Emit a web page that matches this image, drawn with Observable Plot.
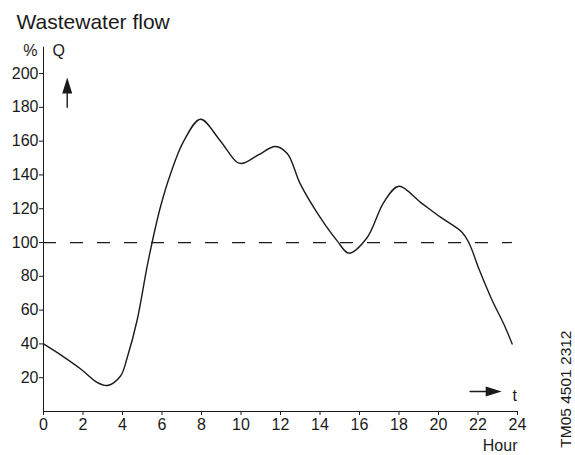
<!DOCTYPE html>
<html>
<head>
<meta charset="utf-8">
<script src="https://cdn.jsdelivr.net/npm/d3@7"></script>
<script src="https://cdn.jsdelivr.net/npm/@observablehq/plot@0.6"></script>
<style>
  html, body { margin: 0; padding: 0; background: #fff; }
</style>
</head>
<body>
<div id="chart"></div>
<script>
// ---- data ----
const hours = [0, 1.0, 1.9, 2.7, 3.24, 3.9, 4.24, 4.74, 5.3, 5.92, 6.43, 7.1, 7.95, 8.9, 9.8, 10.1, 10.9, 11.75, 12.35, 13.0, 14.0, 14.87, 15.46, 16.39, 17.23, 17.99, 19.09, 20.1, 21.2, 21.55, 22.08, 22.72, 23.3, 23.73];
const flow  = [40, 32.5, 25, 17.3, 15.4, 21, 32, 54, 89, 121, 140.6, 160, 173, 161, 147.5, 146.9, 152, 156.8, 152.5, 134.7, 115, 101, 93.7, 103, 123.8, 133.3, 123.8, 115, 106, 99.6, 83.4, 65.7, 51.9, 40];
const reference = [{y: 100, x1: 0, x2: 23.75}];
const xTicks = [0, 2, 4, 6, 8, 10, 12, 14, 16, 18, 20, 22, 24];
const yTicks = [20, 40, 60, 80, 100, 120, 140, 160, 180, 200];
const titleText = "Wastewater flow";
const yUnit = "%";
const yName = "Q";
const xName = "t";
const xUnit = "Hour";
const codeText = "TM05 4501 2312";
// direction arrows (annotation, in data units)
const upArrow = [{x: 1.2, y: 180}, {x: 1.2, y: 190}];
const upTip = [{x: 1.2, y: 197.6}];
const rightArrow = [{x: 21.6, y: 11.8}, {x: 22.6, y: 11.8}];
const rightTip = [{x: 23.2, y: 11.8}];

const data = hours.map((h, i) => ({hour: h, flow: flow[i]}));

const ink = "#1a1a1a";
const headUp = {draw(ctx, size) { const k = Math.sqrt(size / Math.PI) / 8; ctx.moveTo(0, 0); ctx.lineTo(-5 * k, 16 * k); ctx.lineTo(5 * k, 16 * k); ctx.closePath(); }};
const headRight = {draw(ctx, size) { const k = Math.sqrt(size / Math.PI) / 8; ctx.moveTo(0, 0); ctx.lineTo(-16 * k, -5 * k); ctx.lineTo(-16 * k, 5 * k); ctx.closePath(); }};

const chart = Plot.plot({
  width: 575,
  height: 455,
  marginLeft: 43,
  marginRight: 58,
  marginTop: 46.7,
  marginBottom: 44,
  style: {fontFamily: "'Liberation Sans', Arial, sans-serif", fontSize: "16px", color: ink, background: "#fff"},
  x: {domain: [0, 24], ticks: xTicks, tickFormat: d => String(d), tickSize: 4, tickPadding: 3, line: true, label: null},
  y: {domain: [0, 215.6], ticks: yTicks, tickFormat: d => String(d), tickSize: 4, tickPadding: 1, line: true, label: null},
  marks: [
    Plot.ruleY(reference, {y: "y", x1: "x1", x2: "x2", stroke: ink, strokeWidth: 1.2, strokeDasharray: "13,14"}),
    Plot.line(data, {x: "hour", y: "flow", curve: "catmull-rom", stroke: ink, strokeWidth: 1.4}),
    Plot.line(upArrow, {x: "x", y: "y", stroke: ink, strokeWidth: 1.4}),
    Plot.dot(upTip, {x: "x", y: "y", r: 8, symbol: headUp, fill: ink, stroke: "none"}),
    Plot.line(rightArrow, {x: "x", y: "y", stroke: ink, strokeWidth: 1.4}),
    Plot.dot(rightTip, {x: "x", y: "y", r: 8, symbol: headRight, fill: ink, stroke: "none"}),
    Plot.text([titleText], {frameAnchor: "top-left", dx: -27, dy: -25, textAnchor: "start", lineAnchor: "middle", fontSize: 21, fill: ink}),
    Plot.text([yUnit], {frameAnchor: "top-left", dx: -6, dy: 4, textAnchor: "end", lineAnchor: "middle", fill: ink}),
    Plot.text([yName], {frameAnchor: "top-left", dx: 9, dy: 4, textAnchor: "start", lineAnchor: "middle", fill: ink}),
    Plot.text([xName], {frameAnchor: "bottom-right", dx: -5, dy: -16, textAnchor: "start", lineAnchor: "middle", fill: ink}),
    Plot.text([xUnit], {frameAnchor: "bottom-right", dx: 0, dy: 34.5, textAnchor: "end", lineAnchor: "middle", fill: ink}),
    Plot.text([codeText], {frameAnchor: "bottom-right", dx: 49, dy: -81, rotate: -90, textAnchor: "end", lineAnchor: "middle", fontSize: 15.5, fill: ink})
  ]
});
document.getElementById("chart").appendChild(chart);
</script>
</body>
</html>
